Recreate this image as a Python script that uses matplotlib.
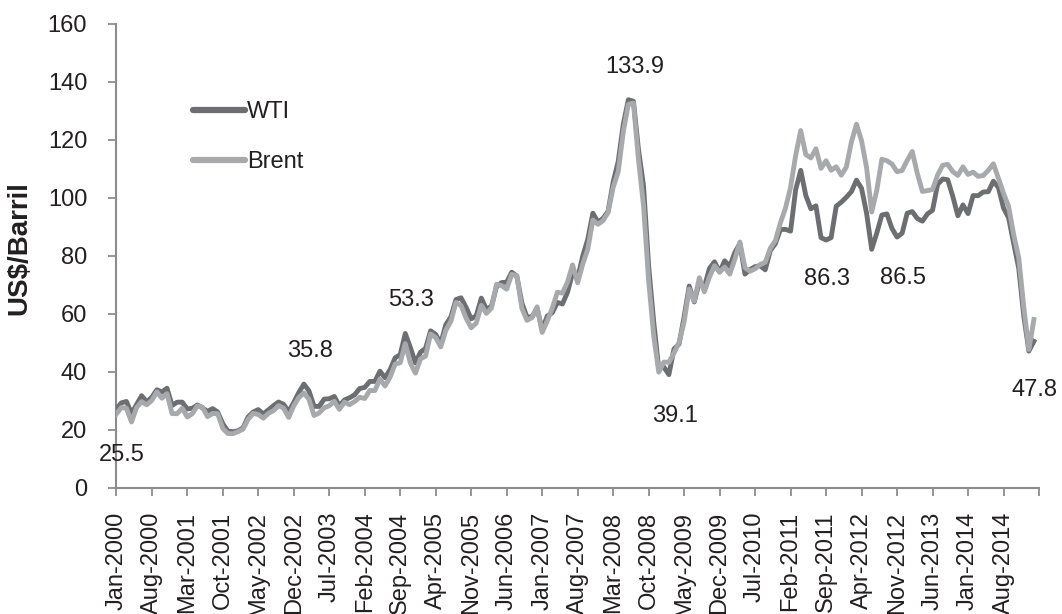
import matplotlib
matplotlib.use("Agg")
import matplotlib.pyplot as plt

# Monthly average spot prices, Jan-2000 .. Feb-2015 (US$/barrel)
wti = [
    27.26, 29.37, 29.84, 25.72, 28.79, 31.82, 29.70, 31.26, 33.88, 33.11, 34.42, 28.44,
    29.59, 29.61, 27.25, 27.49, 28.63, 27.60, 26.43, 27.37, 26.20, 22.17, 19.64, 19.39,
    19.72, 20.72, 24.53, 26.18, 27.04, 25.52, 26.97, 28.39, 29.66, 28.84, 26.35, 29.46,
    32.95, 35.83, 33.51, 28.17, 28.11, 30.66, 30.76, 31.57, 28.31, 30.34, 31.11, 32.13,
    34.31, 34.69, 36.74, 36.75, 40.28, 38.03, 40.78, 44.90, 45.94, 53.28, 48.47, 43.15,
    46.84, 48.15, 54.19, 52.98, 49.83, 56.35, 59.00, 64.99, 65.59, 62.26, 58.32, 59.41,
    65.49, 61.63, 62.69, 69.44, 70.84, 70.95, 74.41, 73.04, 63.80, 58.89, 59.08, 61.96,
    54.51, 59.28, 60.44, 63.98, 63.46, 67.49, 74.12, 72.36, 79.92, 85.80, 94.77, 91.69,
    92.97, 95.39, 105.45, 112.58, 125.40, 133.88, 133.37, 116.67, 104.11, 76.61, 57.31, 41.12,
    41.71, 39.09, 47.94, 49.65, 59.03, 69.64, 64.15, 71.05, 69.41, 75.72, 77.99, 74.47,
    78.33, 76.39, 81.20, 84.29, 73.74, 75.34, 76.32, 76.60, 75.24, 81.89, 84.25, 89.15,
    89.17, 88.58, 102.86, 109.53, 100.90, 96.26, 97.30, 86.33, 85.52, 86.32, 97.16, 98.56,
    100.27, 102.20, 106.16, 103.32, 94.66, 82.30, 87.90, 94.13, 94.51, 89.49, 86.53, 87.86,
    94.76, 95.31, 92.94, 92.02, 94.51, 95.77, 104.67, 106.57, 106.29, 100.54, 93.86, 97.63,
    94.62, 100.82, 100.80, 102.07, 102.18, 105.79, 103.59, 96.54, 93.21, 84.40, 75.79, 59.29,
    47.22, 50.58,
]
brent = [
    25.51, 27.78, 27.49, 22.76, 27.74, 29.80, 28.68, 30.20, 33.14, 30.96, 32.55, 25.66,
    25.62, 27.50, 24.50, 25.66, 28.31, 27.85, 24.61, 25.68, 25.62, 20.54, 18.80, 18.71,
    19.42, 20.28, 23.70, 25.73, 25.35, 24.08, 25.74, 26.65, 28.40, 27.54, 24.34, 28.33,
    31.18, 32.77, 30.61, 25.00, 25.86, 27.65, 28.35, 29.89, 27.11, 29.61, 28.75, 29.81,
    31.28, 30.86, 33.63, 33.59, 37.57, 35.18, 38.22, 42.74, 43.20, 49.78, 43.11, 39.60,
    44.51, 45.48, 53.10, 51.88, 48.65, 54.35, 57.52, 63.98, 62.91, 58.54, 55.24, 56.86,
    62.99, 60.21, 62.06, 70.26, 69.78, 68.56, 73.67, 73.23, 61.96, 57.81, 58.76, 62.47,
    53.68, 57.56, 62.05, 67.49, 67.21, 71.05, 76.93, 70.76, 77.17, 82.34, 92.41, 90.93,
    92.18, 94.99, 103.64, 109.07, 122.80, 132.32, 132.72, 113.24, 97.23, 71.58, 52.45, 39.95,
    43.44, 43.32, 46.54, 50.18, 57.30, 68.61, 64.44, 72.51, 67.65, 72.77, 76.66, 74.46,
    76.17, 73.75, 78.83, 84.82, 75.95, 74.76, 75.58, 77.04, 77.84, 82.67, 85.28, 91.45,
    96.52, 103.72, 114.64, 123.26, 114.99, 113.83, 116.97, 110.22, 112.83, 109.55, 110.77, 107.87,
    110.69, 119.33, 125.45, 119.75, 110.34, 95.16, 102.62, 113.36, 112.86, 111.71, 109.06, 109.49,
    112.96, 116.05, 108.47, 102.25, 102.56, 102.92, 107.93, 111.28, 111.60, 109.08, 107.79, 110.76,
    108.12, 108.90, 107.48, 107.76, 109.54, 111.80, 106.77, 101.61, 97.09, 87.43, 79.44, 62.34,
    47.76, 58.10,
]

tick_labels = [
    "Jan-2000", "Aug-2000", "Mar-2001", "Oct-2001", "May-2002", "Dec-2002",
    "Jul-2003", "Feb-2004", "Sep-2004", "Apr-2005", "Nov-2005", "Jun-2006",
    "Jan-2007", "Aug-2007", "Mar-2008", "Oct-2008", "May-2009", "Dec-2009",
    "Jul-2010", "Feb-2011", "Sep-2011", "Apr-2012", "Nov-2012", "Jun-2013",
    "Jan-2014", "Aug-2014", "",
]

# annotated points: (series, month index, offset direction)
annotations = [
    ("Brent", 0, -1), ("WTI", 37, 1), ("WTI", 57, 1), ("WTI", 101, 1),
    ("WTI", 109, -1), ("WTI", 139, -1), ("WTI", 154, -1), ("Brent", 180, -1),
]

plt.rcParams["font.family"] = ["Liberation Sans", "DejaVu Sans"]
TXT = "#231f20"
AX = "#8c8c8c"

fig = plt.figure(figsize=(10.62, 6.14), dpi=100)
ax = fig.add_axes([116.3 / 1062, (614 - 488) / 614, (1039 - 116.3) / 1062, (488 - 24) / 614])

x = list(range(len(wti)))
ax.plot(x, wti, color="#6d6e71", lw=3.5, solid_joinstyle="round", label="WTI", zorder=3)
ax.plot(x, brent, color="#a7a9ac", lw=3.5, solid_joinstyle="round", label="Brent", zorder=4)

ax.set_xlim(0, 182)
ax.set_ylim(0, 160)
ax.set_yticks(range(0, 161, 20))
ax.set_xticks(range(0, 183, 7))
ax.set_xticklabels(tick_labels, rotation=90, fontsize=17, color=TXT)
ax.tick_params(axis="y", labelsize=17, labelcolor=TXT, length=6, width=1.3, color=AX, pad=15)
ax.tick_params(axis="x", length=6, width=1.3, color=AX, pad=11)

for s in ("top", "right"):
    ax.spines[s].set_visible(False)
for s in ("left", "bottom"):
    ax.spines[s].set_color(AX)
    ax.spines[s].set_linewidth(1.5)

ax.set_ylabel("US$/Barril", fontsize=20, fontweight="bold", color=TXT)
ax.yaxis.set_label_coords((32 - 116.3) / 922.7, (488 - 248) / 464)

series = {"WTI": wti, "Brent": brent}
for name, idx, d in annotations:
    val = series[name][idx]
    ax.annotate(f"{val:.1f}", xy=(idx, val), xytext=(6, 37 * d - 4), textcoords="offset pixels",
                ha="center", va="center", fontsize=17, color=TXT, zorder=5)

leg = ax.legend(loc="upper left", bbox_to_anchor=(193 / 1062, 1 - 101 / 614),
                bbox_transform=fig.transFigure, frameon=False, fontsize=17,
                handlelength=2.2, handletextpad=0.1, labelspacing=1.2, borderpad=0,
                borderaxespad=0)
for t in leg.get_texts():
    t.set_color(TXT)
for h in leg.get_lines():
    h.set_linewidth(4.5)
    h.set_solid_capstyle("round")

fig.savefig("out.png", dpi=100)
